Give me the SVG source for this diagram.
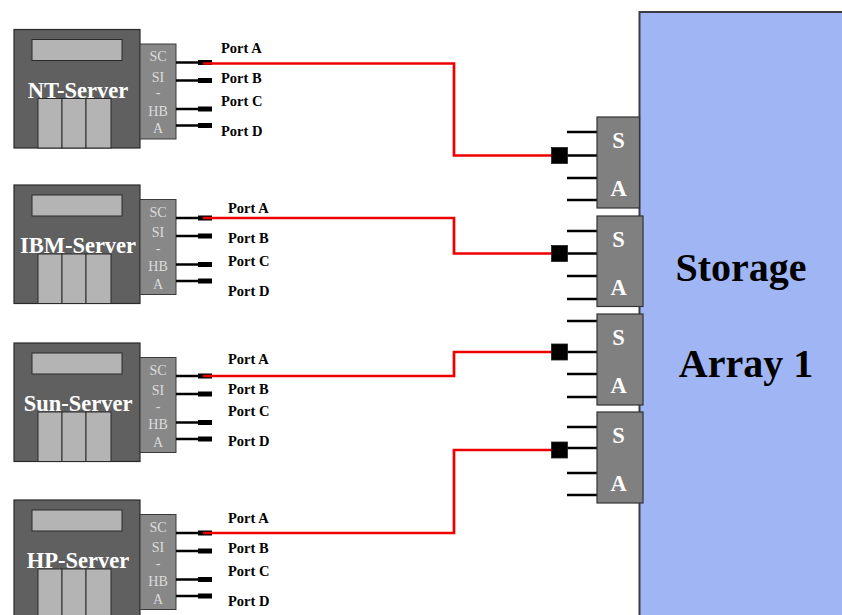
<svg xmlns="http://www.w3.org/2000/svg" width="842" height="615" viewBox="0 0 842 615">
<style>
.box{fill:#606060;stroke:#2a2a2a;stroke-width:1.2}
.screen,.slot{fill:#b4b4b4;stroke:#2a2a2a;stroke-width:1}
.hba{fill:#888888;stroke:#3a3a3a;stroke-width:1}
.srv{font-family:"Liberation Serif",serif;font-weight:bold;font-size:22.5px;fill:#ffffff;text-anchor:middle}
.hbt{font-family:"Liberation Serif",serif;font-size:14px;fill:#dcdcdc;text-anchor:middle}
.port{stroke:#000;stroke-width:2.5}
.plug{fill:#000}
.pl{font-family:"Liberation Serif",serif;font-weight:bold;font-size:14.5px;fill:#000}
.sa{fill:#808080;stroke:#333;stroke-width:1.2}
.sat{font-family:"Liberation Serif",serif;font-weight:bold;font-size:22.5px;fill:#ffffff;text-anchor:middle}
.stub{stroke:#000;stroke-width:2.5}
.sq{fill:#000;stroke:#222;stroke-width:0.8}
.red{fill:none;stroke:#ee0000;stroke-width:2.7}
.big{font-family:"Liberation Serif",serif;font-weight:bold;font-size:40px;fill:#000;text-anchor:middle}
</style>
<defs>
<g id="srvbody">
<rect class="box" x="0" y="0" width="126" height="118.5"/>
<rect class="screen" x="18" y="10" width="90" height="21"/>
<rect class="slot" x="24" y="69" width="24" height="49.5"/>
<rect class="slot" x="48" y="69" width="24" height="49.5"/>
<rect class="slot" x="72" y="69" width="25" height="49.5"/>
<rect class="hba" x="126" y="14.5" width="36" height="95"/>
<text class="hbt" x="144" y="31.5">SC</text>
<text class="hbt" x="144" y="52">SI</text>
<text class="hbt" x="144" y="67.5">-</text>
<text class="hbt" x="144" y="86">HB</text>
<text class="hbt" x="144" y="103.5">A</text>
<line class="port" x1="162" y1="33" x2="186" y2="33"/>
<line class="port" x1="162" y1="51" x2="186" y2="51"/>
<line class="port" x1="162" y1="79.5" x2="186" y2="79.5"/>
<line class="port" x1="162" y1="96" x2="186" y2="96"/>
<rect class="plug" x="184" y="30.5" width="14" height="5"/>
<rect class="plug" x="184" y="48.5" width="14" height="5"/>
<rect class="plug" x="184" y="77" width="14" height="5"/>
<rect class="plug" x="184" y="93.5" width="14" height="5"/>
</g>
</defs>

<g id="storage-array">
<rect x="639.5" y="12" width="215" height="615" fill="#a0b6f4" stroke="#3a3a44" stroke-width="2"/>
<text class="big" x="741" y="281">Storage</text>
<text class="big" x="746" y="377">Array 1</text>
</g>

<g id="nt-server" transform="translate(14,29.5)">
<use href="#srvbody"/>
<text class="srv" x="64" y="68">NT-Server</text>
<text class="pl" x="207" y="23.5">Port A</text>
<text class="pl" x="207" y="53.5">Port B</text>
<text class="pl" x="207" y="76.5">Port C</text>
<text class="pl" x="207" y="106.5">Port D</text>
</g>

<g id="ibm-server" transform="translate(14,185)">
<use href="#srvbody"/>
<text class="srv" x="64" y="68">IBM-Server</text>
<text class="pl" x="214" y="27.7">Port A</text>
<text class="pl" x="214" y="57.7">Port B</text>
<text class="pl" x="214" y="80.7">Port C</text>
<text class="pl" x="214" y="110.7">Port D</text>
</g>

<g id="sun-server" transform="translate(14,343)">
<use href="#srvbody"/>
<text class="srv" x="64" y="68">Sun-Server</text>
<text class="pl" x="214" y="21">Port A</text>
<text class="pl" x="214" y="51">Port B</text>
<text class="pl" x="214" y="73">Port C</text>
<text class="pl" x="214" y="103">Port D</text>
</g>

<g id="hp-server" transform="translate(14,500)">
<use href="#srvbody"/>
<text class="srv" x="64" y="68">HP-Server</text>
<text class="pl" x="214" y="23">Port A</text>
<text class="pl" x="214" y="53">Port B</text>
<text class="pl" x="214" y="76">Port C</text>
<text class="pl" x="214" y="106">Port D</text>
</g>

<g id="connectors">
<path class="red" d="M203 63.5 H454 V155.5 H552"/>
<path class="red" d="M203 218 H454 V253.5 H552"/>
<path class="red" d="M203 376 H454 V352 H552"/>
<path class="red" d="M203 533 H454 V450 H552"/>
</g>

<g id="sa-1">
<line class="stub" x1="567" y1="132" x2="597" y2="132"/>
<line class="stub" x1="567" y1="155.5" x2="597" y2="155.5"/>
<line class="stub" x1="567" y1="178" x2="597" y2="178"/>
<line class="stub" x1="567" y1="200" x2="597" y2="200"/>
<rect class="sq" x="551.5" y="147.5" width="16" height="16"/>
<rect class="sa" x="597" y="117" width="42.5" height="91"/>
<text class="sat" x="618.5" y="148">S</text>
<text class="sat" x="618.5" y="196">A</text>
</g>

<g id="sa-2">
<line class="stub" x1="567" y1="231" x2="597" y2="231"/>
<line class="stub" x1="567" y1="253.5" x2="597" y2="253.5"/>
<line class="stub" x1="567" y1="276" x2="597" y2="276"/>
<line class="stub" x1="567" y1="299" x2="597" y2="299"/>
<rect class="sq" x="551.5" y="245.5" width="16" height="16"/>
<rect class="sa" x="597" y="216" width="46" height="90.5"/>
<text class="sat" x="618.5" y="247">S</text>
<text class="sat" x="618.5" y="295">A</text>
</g>

<g id="sa-3">
<line class="stub" x1="567" y1="321" x2="597" y2="321"/>
<line class="stub" x1="567" y1="352" x2="597" y2="352"/>
<line class="stub" x1="567" y1="374" x2="597" y2="374"/>
<line class="stub" x1="567" y1="397" x2="597" y2="397"/>
<rect class="sq" x="551.5" y="344" width="16" height="16"/>
<rect class="sa" x="597" y="314" width="46" height="91"/>
<text class="sat" x="618.5" y="345">S</text>
<text class="sat" x="618.5" y="393">A</text>
</g>

<g id="sa-4">
<line class="stub" x1="567" y1="427" x2="597" y2="427"/>
<line class="stub" x1="567" y1="448" x2="597" y2="448"/>
<line class="stub" x1="567" y1="473" x2="597" y2="473"/>
<line class="stub" x1="567" y1="495" x2="597" y2="495"/>
<rect class="sq" x="551.5" y="442" width="16" height="16"/>
<rect class="sa" x="597" y="412" width="46" height="91"/>
<text class="sat" x="618.5" y="443">S</text>
<text class="sat" x="618.5" y="491">A</text>
</g>
</svg>
